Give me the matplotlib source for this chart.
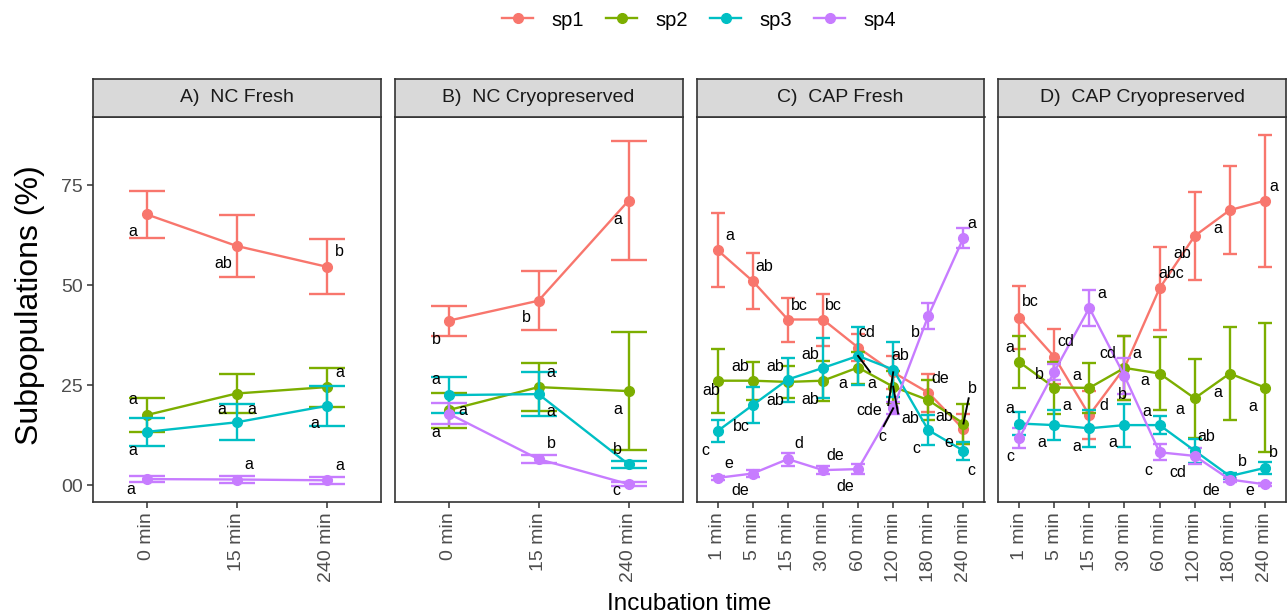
import numpy as np
import matplotlib
matplotlib.use("Agg")
import matplotlib.pyplot as plt
from matplotlib.lines import Line2D

plt.rcParams['font.family'] = ['Liberation Sans', 'DejaVu Sans']

# ---------------- data ----------------
species = ["sp1", "sp2", "sp3", "sp4"]
colors = ["#F8766D", "#7CAE00", "#00BFC4", "#C77CFF"]
panel_titles = ["A)  NC Fresh", "B)  NC Cryopreserved", "C)  CAP Fresh", "D)  CAP Cryopreserved"]
times_nc = ["0 min", "15 min", "240 min"]
times_cap = ["1 min", "5 min", "15 min", "30 min", "60 min", "120 min", "180 min", "240 min"]
y_ticks = [0, 25, 50, 75]
y_tick_labels = ["00", "25", "50", "75"]

# Panel A: NC Fresh (rows sp1..sp4)
A_mean = [[67.7, 59.8, 54.6], [17.5, 22.9, 24.5], [13.3, 15.7, 19.8], [1.5, 1.4, 1.2]]
A_err = [[5.9, 7.8, 6.9], [4.3, 4.8, 4.9], [3.4, 4.5, 5.0], [0.8, 0.9, 0.8]]
A_let = [["a", "ab", "b"], ["a", "a", "a"], ["a", "a", "a"], ["a", "a", "a"]]

# Panel B: NC Cryopreserved
B_mean = [[41.1, 46.1, 71.1], [18.75, 24.5, 23.5], [22.5, 22.75, 5.2], [17.9, 6.5, 0.25]]
B_err = [[3.75, 7.4, 14.9], [4.4, 6.0, 14.7], [4.5, 5.5, 0.9], [2.6, 1.0, 0.5]]
B_let = [["b", "b", "a"], ["a", "a", "a"], ["a", "a", "b"], ["a", "b", "c"]]

# Panel C: CAP Fresh
C_mean = [[58.75, 51.0, 41.4, 41.4, 34.4, 28.2, 23.1, 14.0],
          [26.1, 26.1, 25.8, 26.1, 29.4, 24.6, 21.25, 15.4],
          [13.5, 20.0, 26.4, 29.3, 32.3, 28.9, 13.75, 8.6],
          [1.8, 2.9, 6.5, 3.75, 4.0, 19.2, 42.3, 61.8]]
C_err = [[9.2, 6.9, 5.5, 6.5, 3.4, 4.2, 4.8, 3.7],
         [8.0, 4.8, 4.0, 5.0, 4.0, 4.0, 5.0, 5.0],
         [2.8, 4.5, 5.5, 7.4, 7.3, 6.9, 3.75, 2.2],
         [0.5, 0.8, 1.6, 1.0, 1.2, 1.5, 3.3, 2.5]]
C_let = [["a", "ab", "bc", "bc", "cd", "cde", "de", "e"],
         ["ab", "ab", "ab", "ab", "a", "ab", "ab", "b"],
         ["c", "bc", "ab", "ab", "a", "ab", "c", "c"],
         ["e", "de", "d", "de", "de", "c", "b", "a"]]

# Panel D: CAP Cryopreserved
D_mean = [[41.9, 32.1, 17.5, 29.3, 49.2, 62.3, 68.75, 71.1],
          [30.8, 24.4, 24.3, 29.3, 27.9, 21.7, 27.9, 24.4],
          [15.4, 15.0, 14.2, 15.0, 15.0, 8.6, 2.25, 4.3],
          [11.7, 28.3, 44.3, 27.3, 8.2, 7.3, 1.4, 0.2]]
D_err = [[7.9, 6.9, 6.0, 8.0, 10.3, 11.0, 10.9, 16.5],
         [6.6, 6.5, 6.2, 8.0, 9.1, 9.8, 11.6, 16.1],
         [2.8, 3.75, 4.7, 5.4, 2.3, 3.0, 0.8, 1.5],
         [2.5, 2.0, 4.5, 4.4, 2.0, 2.0, 0.5, 0.3]]
D_let = [["bc", "cd", "d", "cd", "abc", "ab", "a", "a"],
         ["a", "a", "a", "a", "a", "a", "a", "a"],
         ["a", "a", "a", "a", "a", "ab", "b", "b"],
         ["c", "b", "a", "b", "c", "cd", "de", "e"]]

# ---------------- layout (label placement, repel-style) ----------------
A_lab_pos = [[(0.85, 63.3), (1.85, 55.4), (3.14, 58.3)],
             [(0.85, 21.3), (2.17, 19.0), (3.15, 28.2)],
             [(0.85, 8.75), (1.84, 19.0), (2.87, 15.4)],
             [(0.83, -1.1), (2.14, 5.25), (3.15, 5.0)]]
B_lab_pos = [[(0.86, 36.4), (1.86, 41.8), (2.88, 66.4)],
             [(1.16, 18.6), (2.14, 18.3), (2.88, 19.0)],
             [(0.86, 26.4), (2.14, 28.2), (2.88, 8.9)],
             [(0.86, 13.1), (2.14, 10.4), (2.87, -1.25)]]
C_lab_pos = [[(1.34, 62.5), (2.33, 54.6), (3.33, 45.0), (4.31, 45.0), (5.24, 38.1), (5.33, 18.75), (7.34, 26.7), (7.58, 10.6)],
             [(0.81, 23.75), (1.64, 29.75), (2.64, 21.25), (3.63, 21.4), (4.56, 25.4), (6.49, 16.7), (7.46, 17.25), (8.25, 24.2)],
             [(0.65, 8.75), (1.69, 14.6), (2.64, 29.75), (3.63, 32.7), (5.38, 25.4), (6.2, 32.5), (6.66, 9.2), (8.22, 3.75)],
             [(1.31, 5.4), (1.64, -1.25), (3.3, 10.4), (4.34, 7.5), (4.64, -0.25), (5.69, 12.1), (6.64, 38.1), (8.25, 65.4)]]
D_lab_pos = [[(1.33, 45.8), (2.33, 35.8), (3.41, 20.0), (3.53, 32.9), (5.33, 52.9), (5.66, 57.9), (6.66, 64.2), (8.24, 74.75)],
             [(0.74, 34.4), (2.35, 20.0), (2.64, 27.5), (4.34, 32.9), (4.58, 26.1), (5.59, 19.0), (6.66, 23.2), (7.65, 19.75)],
             [(0.74, 19.2), (1.64, 10.6), (2.65, 9.75), (3.66, 10.6), (4.65, 18.3), (6.33, 12.25), (7.37, 6.0), (8.24, 8.2)],
             [(0.74, 7.1), (1.58, 27.75), (3.35, 47.9), (3.94, 22.75), (4.67, 3.75), (5.52, 3.1), (6.47, -1.25), (7.58, -1.25)]]
# leader segments in panel C: (species index, time index, segment end near label)
C_segments = [(2, 4, (5.34, 28.3)), (0, 5, (5.86, 20.0)), (1, 5, (6.14, 17.9)),
              (3, 5, (5.73, 14.75)), (1, 7, (8.15, 21.7))]

W, H = 1287, 615
fig = plt.figure(figsize=(W / 100, H / 100), dpi=100)

panel_left = [92.5, 394.5, 696.5, 998.0]
panel_w = 288.0
panel_top, panel_bot = 116.7, 502.3
strip_top = 79.0
ylim = (-4.3, 92.1)
border = "#333333"

panels = [(times_nc, A_mean, A_err, A_let, A_lab_pos, []),
          (times_nc, B_mean, B_err, B_let, B_lab_pos, []),
          (times_cap, C_mean, C_err, C_let, C_lab_pos, C_segments),
          (times_cap, D_mean, D_err, D_let, D_lab_pos, [])]

for k, (times, means, errs, lets, lpos, segs) in enumerate(panels):
    L = panel_left[k]
    ax = fig.add_axes([L / W, 1 - panel_bot / H, panel_w / W, (panel_bot - panel_top) / H])
    n = len(times)
    x = np.arange(1, n + 1)
    ax.set_xlim(0.4, n + 0.6)
    ax.set_ylim(*ylim)
    px_per_unit = panel_w / (n + 0.2)
    cap = 0.2 * px_per_unit * 0.72
    for i in range(4):
        ax.errorbar(x, means[i], yerr=errs[i], color=colors[i], lw=1.7, marker='o', ms=7,
                    capsize=cap, capthick=1.7, elinewidth=1.7, zorder=2 + i * 0.1)
    for (si, ti, end) in segs:
        ax.plot([x[ti], end[0]], [means[si][ti], end[1]], color="black", lw=1.4, zorder=5)
    for i in range(4):
        for j, t in enumerate(lets[i]):
            ax.text(lpos[i][j][0], lpos[i][j][1], t, ha='center', va='center',
                    fontsize=11.5, color='black', zorder=6)
    ax.set_xticks(x)
    ax.set_xticklabels(times, rotation=90, fontsize=14, color='#4D4D4D')
    ax.tick_params(axis='x', length=4, width=1.1, color=border, pad=3)
    if k == 0:
        ax.set_yticks(y_ticks)
        ax.set_yticklabels(y_tick_labels, fontsize=14, color='#4D4D4D')
        ax.tick_params(axis='y', length=4, width=1.1, color=border, pad=3)
    else:
        ax.tick_params(axis='y', left=False, labelleft=False)
    for s in ax.spines.values():
        s.set_color(border)
        s.set_linewidth(1.2)
    # strip
    sax = fig.add_axes([L / W, 1 - panel_top / H, panel_w / W, (panel_top - strip_top) / H])
    sax.set_facecolor('#D9D9D9')
    sax.set_xticks([]); sax.set_yticks([])
    for s in sax.spines.values():
        s.set_color(border)
        s.set_linewidth(1.2)
    sax.text(0.5, 0.5, panel_titles[k], ha='center', va='center', fontsize=14,
             color='#1A1A1A', transform=sax.transAxes)

fig.text(30 / W, 1 - 305 / H, "Subpopulations (%)", rotation=90, ha='center', va='center',
         fontsize=23, color='black')
fig.text(689 / W, 1 - 610 / H, "Incubation time", ha='center', va='baseline',
         fontsize=17.5, color='black')

handles = [Line2D([0], [0], color=c, lw=1.7, marker='o', ms=7) for c in colors]
fig.legend(handles, species, loc='center', bbox_to_anchor=(699 / W, 1 - 20 / H), ncol=4,
           frameon=False, fontsize=14.5, handlelength=1.55, handletextpad=0.9, columnspacing=1.1)

fig.savefig("out.png", dpi=100)
